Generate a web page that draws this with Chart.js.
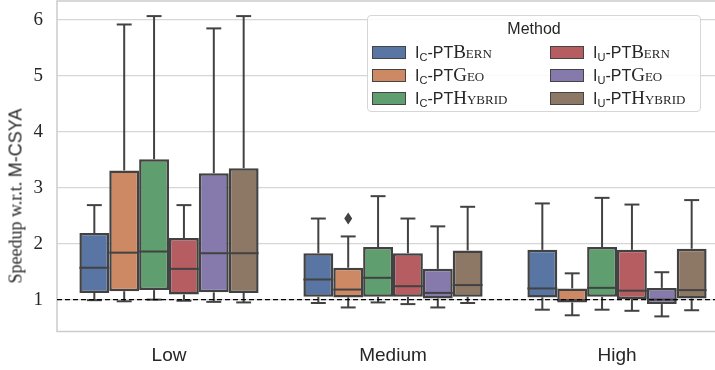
<!DOCTYPE html>
<html>
<head>
<meta charset="utf-8">
<script src="https://cdn.jsdelivr.net/npm/chart.js@4.4.1/dist/chart.umd.min.js"></script>
<style>
  body { margin: 0; width: 715px; height: 370px; overflow: hidden; background: #fff; }
  #wrap { position: absolute; left: 0; top: 0; width: 731px; height: 370px; }
  #ytitle {
    position: absolute; left: 16px; top: 196px;
    transform: translate(-50%, -50%) rotate(-90deg);
    white-space: nowrap; font-size: 18px; color: #262626;
  }
  .serif { font-family: "Liberation Serif", serif; }
  .sans { font-family: "Liberation Sans", sans-serif; }
  #legend {
    position: absolute; left: 367px; top: 15px; width: 332px; height: 95px;
    border: 1px solid #d6d6d6; border-radius: 4px; background: rgba(255,255,255,0.85);
    font-family: "Liberation Sans", sans-serif; color: #262626;
  }
  #legend .title { position: absolute; left: 0; right: 0; top: 4px; text-align: center; font-size: 16px; }
  #legend .item { position: absolute; font-size: 16px; line-height: 16px; white-space: nowrap; }
  #legend .sw { position: absolute; width: 32px; height: 11px; border: 1px solid #444; }
  #legend .lbl { position: absolute; left: 43px; top: -2px; }
  #legend sub { font-size: 11px; vertical-align: -3px; line-height: 0; }
  #legend .sc { font-family: "Liberation Serif", serif; font-variant: small-caps; font-size: 19px; }
</style>
</head>
<body>
<div id="wrap">
  <canvas id="myChart" width="731" height="370"></canvas>
</div>
<div id="ytitle"><span class="serif">Speedup w.r.t.</span> <span class="sans">M-CSYA</span></div>
<div id="legend"></div>
<script>
// categories and methods
const categories = ['Low', 'Medium', 'High'];
const methods = ['Bern', 'Geo', 'Hybrid', 'Bern', 'Geo', 'Hybrid'];
const methodIdx = ['C', 'C', 'C', 'U', 'U', 'U'];
const colors = ['#5975a4', '#cc8963', '#5f9e6e', '#b55d60', '#857aab', '#8d7866'];

// per method: values for [Low, Medium, High]
const lowWhisker = [
  [0.99, 0.94, 0.82],
  [0.97, 0.86, 0.72],
  [1.00, 0.95, 0.82],
  [0.98, 0.92, 0.80],
  [0.96, 0.86, 0.70],
  [0.95, 0.94, 0.81]
];
const q1 = [
  [1.12, 1.05, 1.04],
  [1.15, 1.04, 0.95],
  [1.17, 1.05, 1.05],
  [1.09, 1.05, 1.01],
  [1.13, 1.02, 0.92],
  [1.12, 1.05, 1.02]
];
const median = [
  [1.57, 1.36, 1.20],
  [1.84, 1.18, 0.99],
  [1.86, 1.39, 1.21],
  [1.55, 1.24, 1.16],
  [1.83, 1.12, 1.00],
  [1.83, 1.26, 1.17]
];
const q3 = [
  [2.19, 1.83, 1.89],
  [3.31, 1.57, 1.20],
  [3.51, 1.94, 1.94],
  [2.10, 1.83, 1.89],
  [3.26, 1.55, 1.21],
  [3.35, 1.88, 1.91]
];
const highWhisker = [
  [2.69, 2.45, 2.72],
  [5.92, 2.13, 1.47],
  [6.07, 2.85, 2.82],
  [2.69, 2.45, 2.70],
  [5.85, 2.31, 1.49],
  [6.07, 2.66, 2.78]
];
// outliers: [method, category, value]
const outliers = [[1, 1, 2.45]];
const yTicks = [1, 2, 3, 4, 5, 6];
const refLine = 1;

const lineGray = '#424242';

// whiskers, medians, caps, outliers and the dashed reference line
const boxDetails = {
  id: 'boxDetails',
  beforeDatasetsDraw(chart) {
    const a = chart.chartArea, ctx = chart.ctx;
    ctx.save();
    ctx.strokeStyle = '#cccccc';
    ctx.lineWidth = 1.5;
    ctx.strokeRect(a.left, a.top, a.right - a.left, a.bottom - a.top);
    ctx.restore();
  },
  afterDatasetsDraw(chart) {
    const ctx = chart.ctx, y = chart.scales.y;
    ctx.save();
    ctx.strokeStyle = lineGray;
    ctx.lineWidth = 2;
    const line = (x1, y1, x2, y2) => { ctx.beginPath(); ctx.moveTo(x1, y1); ctx.lineTo(x2, y2); ctx.stroke(); };
    chart.data.datasets.forEach((ds, d) => {
      const meta = chart.getDatasetMeta(d);
      meta.data.forEach((bar, i) => {
        const x = bar.x, half = bar.width / 2, cap = bar.width / 4;
        const yLo = y.getPixelForValue(lowWhisker[d][i]);
        const yQ1 = y.getPixelForValue(q1[d][i]);
        const yMed = y.getPixelForValue(median[d][i]);
        const yQ3 = y.getPixelForValue(q3[d][i]);
        const yHi = y.getPixelForValue(highWhisker[d][i]);
        line(x, yQ3, x, yHi);
        line(x, yQ1, x, yLo);
        line(x - cap, yHi, x + cap, yHi);
        line(x - cap, yLo, x + cap, yLo);
        line(x - half, yMed, x + half, yMed);
      });
    });
    ctx.fillStyle = lineGray;
    outliers.forEach(([d, i, v]) => {
      const bar = chart.getDatasetMeta(d).data[i];
      const py = y.getPixelForValue(v);
      ctx.beginPath();
      ctx.moveTo(bar.x, py - 6);
      ctx.lineTo(bar.x + 4, py);
      ctx.lineTo(bar.x, py + 6);
      ctx.lineTo(bar.x - 4, py);
      ctx.closePath();
      ctx.fill();
    });
    const a = chart.chartArea;
    const yr = y.getPixelForValue(refLine);
    ctx.strokeStyle = '#000';
    ctx.lineWidth = 1.3;
    ctx.setLineDash([5, 3]);
    line(a.left, yr, a.right, yr);
    ctx.restore();
  }
};

var ctx = document.getElementById('myChart').getContext('2d');
var chart = new Chart(ctx, {
    type: 'bar',
    data: {
        labels: categories,
        datasets: methods.map((m, d) => ({
            label: 'I' + methodIdx[d] + '-PT' + m,
            data: categories.map((c, i) => [q1[d][i], q3[d][i]]),
            backgroundColor: colors[d],
            borderColor: lineGray,
            borderWidth: 2.5,
            borderSkipped: false,
            categoryPercentage: 0.8,
            barPercentage: 1.0
        }))
    },
    options: {
        responsive: false,
        animation: false,
        devicePixelRatio: 1,
        layout: { padding: { top: 1, right: 2, left: 0, bottom: 0 } },
        plugins: { legend: { display: false }, tooltip: { enabled: false } },
        scales: {
            x: {
                grid: { display: false },
                border: { display: false },
                ticks: { color: '#262626', font: { family: 'Liberation Sans', size: 19 }, padding: 5 },
                afterFit: (axis) => {
                    axis.height = 38.5;
                    axis.paddingLeft = 0; axis.paddingRight = 0;
                }
            },
            y: {
                min: 0.43,
                max: 6.34,
                grid: { color: '#d6d6d6', lineWidth: 1.2, drawTicks: false },
                border: { display: false },
                ticks: { color: '#262626', font: { family: 'Liberation Serif', size: 19 }, padding: 14 },
                afterBuildTicks: (axis) => { axis.ticks = yTicks.map(v => ({ value: v })); },
                afterFit: (axis) => {
                    axis.width = 57;
                    axis.paddingTop = 0; axis.paddingBottom = 0;
                }
            }
        }
    },
    plugins: [boxDetails]
});

// legend in two columns, as in the figure
const legend = document.getElementById('legend');
legend.innerHTML = '<div class="title">Method</div>';
methods.forEach((m, d) => {
    const col = d < 3 ? 0 : 1, row = d % 3;
    const item = document.createElement('div');
    item.className = 'item';
    item.style.left = (col === 0 ? 4 : 182) + 'px';
    item.style.top = (30 + row * 23) + 'px';
    item.innerHTML = '<div class="sw" style="background:' + colors[d] + '"></div>' +
        '<span class="lbl">I<sub>' + methodIdx[d] + '</sub>-PT<span class="sc">' + m + '</span></span>';
    legend.appendChild(item);
});
</script>
</body>
</html>
